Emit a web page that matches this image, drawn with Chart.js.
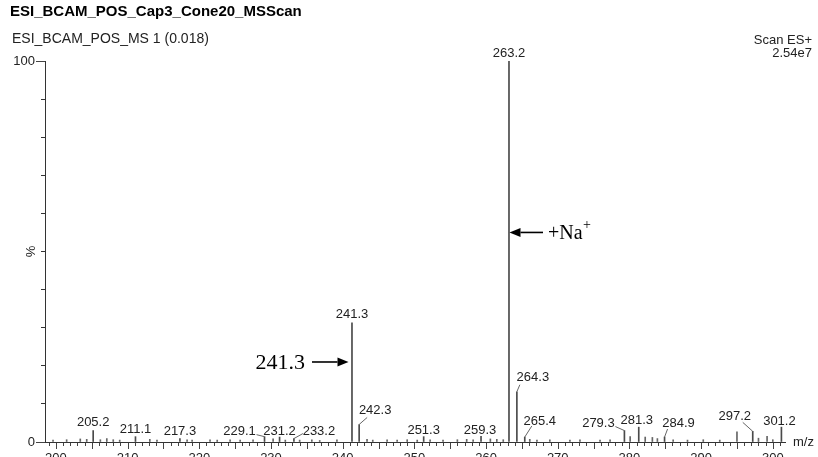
<!DOCTYPE html>
<html>
<head>
<meta charset="utf-8">
<title>ESI_BCAM_POS_Cap3_Cone20_MSScan</title>
<script src="https://cdn.jsdelivr.net/npm/chart.js@4.4.1/dist/chart.umd.min.js"></script>
<style>
  html, body { margin: 0; padding: 0; background: #fff; overflow: hidden; }
  #box { width: 818px; height: 470px; }
</style>
</head>
<body>
<div id="box"><canvas id="spectrum" width="818" height="470"></canvas></div>
<script>
// Labelled ions: m/z and relative intensity (% of base peak)
const peakMz  = [205.2, 211.1, 217.3, 229.1, 231.2, 233.2, 241.3, 242.3, 251.3, 259.3, 263.2, 264.3, 265.4, 279.3, 281.3, 284.9, 297.2, 301.2];
const peakPct = [3.0,   1.4,   0.9,   1.4,   1.3,   0.9,   31.3,  4.6,   1.4,   1.5,   100,   13.2,  1.3,   3.0,   3.9,   1.3,   2.8,   3.9];

// Unlabelled minor ions
const minorMz  = [199.6, 201.5, 203.4, 204.3, 206.2, 207.1, 208.0, 208.9, 213.1, 214.1, 218.3, 219.0, 221.5, 222.5, 224.3, 225.7, 227.5, 230.3, 232.0, 234.0, 235.7, 236.8, 239.2, 243.4, 244.2, 246.2, 247.6, 249.0, 250.4, 252.2, 254.0, 256.0, 257.3, 258.2, 260.6, 261.5, 262.4, 266.1, 267.1, 268.9, 271.7, 273.1, 275.9, 277.3, 280.1, 282.2, 283.2, 283.9, 286.1, 288.1, 290.3, 292.6, 295.0, 298.0, 299.2, 300.0];
const minorPct = [0.5,   0.6,   0.8,   0.7,   0.6,   0.9,   0.6,   0.5,   0.7,   0.5,   0.6,   0.5,   0.6,   0.5,   0.6,   0.5,   0.6,   0.8,   0.5,   0.5,   0.6,   0.4,   0.6,   0.7,   0.5,   0.6,   0.5,   0.6,   0.5,   0.6,   0.5,   0.6,   0.7,   0.6,   0.8,   0.7,   0.6,   0.7,   0.5,   0.6,   0.5,   0.6,   0.5,   0.6,   1.4,   1.3,   1.2,   0.9,   0.6,   0.5,   0.6,   0.5,   2.7,   1.0,   1.5,   0.6];

// Axis tick labels
const mzTicks  = [200, 210, 220, 230, 240, 250, 260, 270, 280, 290, 300];
const pctTicks = [0, 100];

// Header / annotation text
const titleText    = 'ESI_BCAM_POS_Cap3_Cone20_MSScan';
const subtitleText = 'ESI_BCAM_POS_MS 1 (0.018)';
const scanText     = 'Scan ES+';
const baseText     = '2.54e7';
const calloutMz    = 241.3;   // protonated ion
const sodiumMz     = 263.2;   // sodium adduct
const calloutPct   = 21;      // height of the arrows, in %
const sodiumPct    = 55;

const SANS  = '"Liberation Sans", Arial, Helvetica, sans-serif';
const SERIF = '"Liberation Serif", "Times New Roman", Times, serif';
const INK = '#222';

// Peak label placement: [dx, dy] from peak top to label centre,
// optional [lx, ly] start of a leader line relative to the label centre.
const labelPlacement = {
  '205.2': [0, -8],   '211.1': [0, -7],   '217.3': [0, -7],
  '229.1': [-25, -5, 17, 3],  '231.2': [0, -5.5], '233.2': [25, -7, -16, 2],
  '241.3': [0, -8],   '242.3': [16, -14, -8, 7],  '251.3': [0, -6], '259.3': [-1, -6],
  '263.2': [0, -8],   '264.3': [16, -14, -13, 7], '265.4': [15, -16, -8, 5],
  '279.3': [-26, -7, 17, 3],  '281.3': [-2, -6.5], '284.9': [14, -14, -11, 6],
  '297.2': [-18, -15, 8, 6],  '301.2': [-2, -5.5]
};

function arrow(ctx, xTail, xTip, yy) {
  const dir = xTip > xTail ? 1 : -1;
  const head = 11, half = 4.5;
  ctx.beginPath();
  ctx.moveTo(xTail, yy);
  ctx.lineTo(xTip - dir * head, yy);
  ctx.lineWidth = 1.6;
  ctx.strokeStyle = '#000';
  ctx.stroke();
  ctx.beginPath();
  ctx.moveTo(xTip, yy);
  ctx.lineTo(xTip - dir * head, yy - half);
  ctx.lineTo(xTip - dir * head, yy + half);
  ctx.closePath();
  ctx.fillStyle = '#000';
  ctx.fill();
}

const spectrumDecor = {
  id: 'spectrumDecor',
  afterDraw(chart) {
    const { ctx, chartArea: a } = chart;
    const xs = chart.scales.x, ys = chart.scales.y;
    ctx.save();

    // m/z tick marks below the axis: every 1 unit, longer every 5
    ctx.strokeStyle = '#444';
    ctx.lineWidth = 1;
    ctx.beginPath();
    const axisY = Math.round(a.bottom) + 1;
    for (let m = Math.ceil(xs.min); m <= Math.floor(xs.max); m++) {
      const px = Math.round(xs.getPixelForValue(m)) + 0.5;
      const len = (m % 5 === 0) ? 6 : 3;
      ctx.moveTo(px, axisY);
      ctx.lineTo(px, axisY + len);
    }
    // longer ticks at the labelled intensity values
    pctTicks.forEach(v => {
      const py = Math.round(ys.getPixelForValue(v)) + 0.5;
      ctx.moveTo(a.left - 9, py);
      ctx.lineTo(a.left, py);
    });
    ctx.stroke();

    // peak labels with leader lines
    ctx.font = '13px ' + SANS;
    ctx.fillStyle = INK;
    ctx.textAlign = 'center';
    ctx.textBaseline = 'middle';
    peakMz.forEach((mz, i) => {
      const label = mz.toFixed(1);
      const p = labelPlacement[label] || [0, -8];
      const px = xs.getPixelForValue(mz);
      const top = ys.getPixelForValue(peakPct[i]);
      const lx = px + p[0], ly = top + p[1];
      ctx.fillText(label, lx, ly);
      if (p.length > 2) {
        ctx.beginPath();
        ctx.moveTo(lx + p[2], ly + p[3]);
        ctx.lineTo(px, top);
        ctx.strokeStyle = '#666';
        ctx.lineWidth = 1;
        ctx.stroke();
      }
    });

    // headers
    ctx.textAlign = 'left';
    ctx.font = 'bold 15px ' + SANS;
    ctx.fillStyle = '#000';
    ctx.fillText(titleText, 10, 12);
    ctx.font = '14px ' + SANS;
    ctx.fillStyle = INK;
    ctx.fillText(subtitleText, 12, 39);
    ctx.textAlign = 'right';
    ctx.font = '13px ' + SANS;
    ctx.fillText(scanText, 812, 40);
    ctx.fillText(baseText, 812, 53);

    // axis titles
    ctx.textAlign = 'left';
    ctx.fillText('m/z', 793, a.bottom);
    ctx.save();
    ctx.translate(31, ys.getPixelForValue(50));
    ctx.rotate(-Math.PI / 2);
    ctx.textAlign = 'center';
    ctx.fillText('%', 0, 0);
    ctx.restore();

    // annotations
    const xCall = xs.getPixelForValue(calloutMz);
    const yCall = ys.getPixelForValue(calloutPct);
    arrow(ctx, xCall - 40, xCall - 3.5, yCall);
    ctx.font = '22px ' + SERIF;
    ctx.fillStyle = '#000';
    ctx.textAlign = 'right';
    ctx.fillText(calloutMz.toFixed(1), xCall - 47, yCall + 1.5);

    const xNa = xs.getPixelForValue(sodiumMz);
    const yNa = ys.getPixelForValue(sodiumPct);
    arrow(ctx, xNa + 34, xNa + 0.5, yNa);
    ctx.font = '20px ' + SERIF;
    ctx.textAlign = 'left';
    const naX = xNa + 39;
    ctx.fillText('+Na', naX, yNa + 1);
    const w = ctx.measureText('+Na').width;
    ctx.font = '14px ' + SERIF;
    ctx.fillText('+', naX + w + 0.5, yNa - 7);

    ctx.restore();
  }
};

Chart.defaults.font.family = SANS;
Chart.defaults.font.size = 13;
Chart.defaults.color = INK;

new Chart(document.getElementById('spectrum'), {
  type: 'bar',
  data: {
    datasets: [
      {
        data: peakMz.map((m, i) => ({ x: m, y: peakPct[i] })),
        backgroundColor: '#4a4a4a',
        barThickness: 1,
        borderWidth: 0,
        grouped: false
      },
      {
        data: minorMz.map((m, i) => ({ x: m, y: minorPct[i] })),
        backgroundColor: '#666',
        barThickness: 1,
        borderWidth: 0,
        grouped: false
      }
    ]
  },
  options: {
    responsive: false,
    devicePixelRatio: 1,
    animation: false,
    events: [],
    layout: { padding: { top: 61, right: 33, bottom: 0, left: 0 } },
    plugins: { legend: { display: false }, tooltip: { enabled: false } },
    scales: {
      x: {
        type: 'linear',
        bounds: 'data',
        min: 198.48,
        max: 301.7,
        offset: false,
        grid: { display: false },
        border: { display: true, color: '#333', width: 1 },
        afterBuildTicks: s => { s.ticks = mzTicks.map(v => ({ value: v })); },
        ticks: { padding: 1, maxRotation: 0, autoSkip: false, color: INK,
                 callback: v => String(v) },
        afterFit: s => { s.height = 28; }
      },
      y: {
        min: 0,
        max: 100,
        grid: { drawOnChartArea: false, drawTicks: true, tickLength: 4, color: '#333' },
        border: { display: true, color: '#333', width: 1 },
        ticks: { stepSize: 10, padding: 6, color: INK,
                 callback: v => pctTicks.includes(v) ? String(v) : '' },
        afterFit: s => { s.width = 45; }
      }
    }
  },
  plugins: [spectrumDecor]
});
</script>
</body>
</html>
